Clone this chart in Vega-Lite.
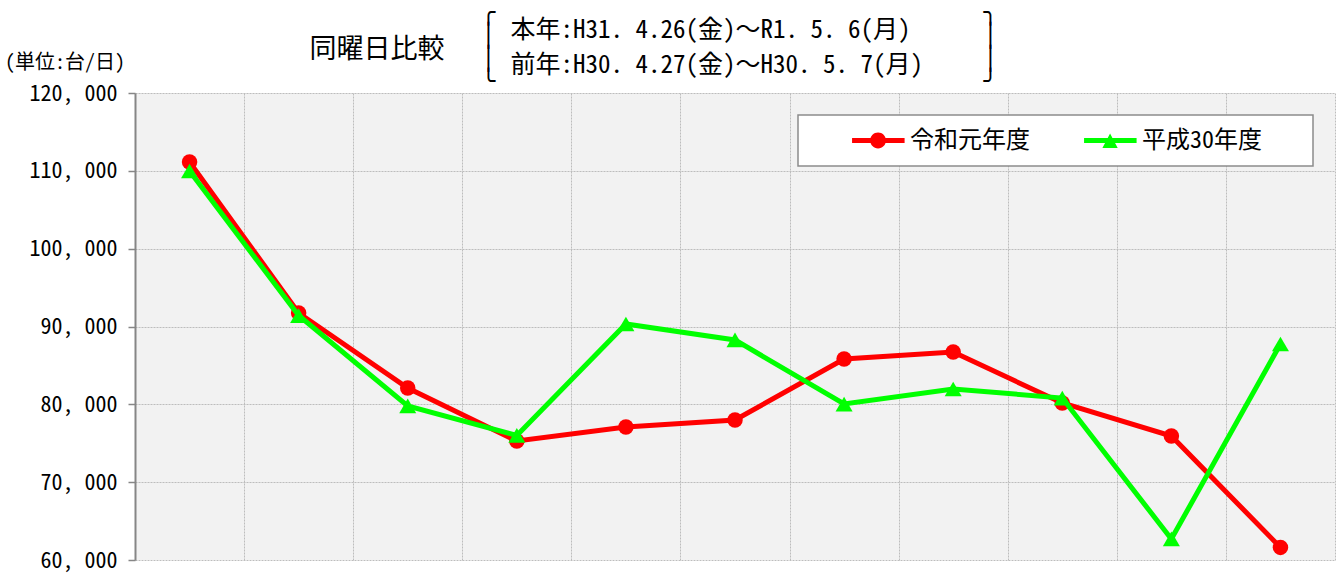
{
  "$schema": "https://vega.github.io/schema/vega-lite/v6.json",
  "width": 1200,
  "height": 467,
  "autosize": {"type": "none"},
  "padding": {"left": 135, "top": 93, "right": 2, "bottom": 13},
  "background": "white",
  "title": {
    "text": "(単位:台/日)",
    "anchor": "start",
    "frame": "group",
    "dx": -130,
    "offset": -72,
    "baseline": "top",
    "font": "Noto Sans Mono CJK JP, Noto Sans CJK JP, sans-serif",
    "fontSize": 20,
    "fontWeight": "normal",
    "color": "black"
  },
  "data": {
    "values": [
      {"i": 1, "day": "4/26", "series": "令和元年度", "value": 111135},
      {"i": 2, "day": "4/27", "series": "令和元年度", "value": 91735},
      {"i": 3, "day": "4/28", "series": "令和元年度", "value": 82100},
      {"i": 4, "day": "4/29", "series": "令和元年度", "value": 75290},
      {"i": 5, "day": "4/30", "series": "令和元年度", "value": 77090},
      {"i": 6, "day": "5/1", "series": "令和元年度", "value": 77990},
      {"i": 7, "day": "5/2", "series": "令和元年度", "value": 85820},
      {"i": 8, "day": "5/3", "series": "令和元年度", "value": 86720},
      {"i": 9, "day": "5/4", "series": "令和元年度", "value": 80170},
      {"i": 10, "day": "5/5", "series": "令和元年度", "value": 75930},
      {"i": 11, "day": "5/6", "series": "令和元年度", "value": 61620},
      {"i": 1, "day": "4/26", "series": "平成30年度", "value": 109980},
      {"i": 2, "day": "4/27", "series": "平成30年度", "value": 91410},
      {"i": 3, "day": "4/28", "series": "平成30年度", "value": 79790},
      {"i": 4, "day": "4/29", "series": "平成30年度", "value": 76000},
      {"i": 5, "day": "4/30", "series": "平成30年度", "value": 90320},
      {"i": 6, "day": "5/1", "series": "平成30年度", "value": 88270},
      {"i": 7, "day": "5/2", "series": "平成30年度", "value": 80040},
      {"i": 8, "day": "5/3", "series": "平成30年度", "value": 81970},
      {"i": 9, "day": "5/4", "series": "平成30年度", "value": 80810},
      {"i": 10, "day": "5/5", "series": "平成30年度", "value": 62700},
      {"i": 11, "day": "5/6", "series": "平成30年度", "value": 87750}
    ]
  },
  "resolve": {"axis": {"x": "independent", "y": "independent"}},
  "layer": [
    {
      "transform": [{"filter": "datum.series === '令和元年度'"}],
      "mark": {"type": "line", "strokeWidth": 5},
      "encoding": {
        "x": {
          "field": "day", "type": "ordinal", "bandPosition": 0.5,
          "scale": {"type": "band", "paddingInner": 0, "paddingOuter": 0, "domain": ["4/26","4/27","4/28","4/29","4/30","5/1","5/2","5/3","5/4","5/5","5/6"]},
          "axis": {
            "orient": "top", "labels": false, "ticks": false, "domain": false, "grid": false,
            "title": ["本年:H31. 4.26(金)～R1. 5. 6(月)", "前年:H30. 4.27(金)～H30. 5. 7(月)"],
            "titleFont": "Noto Sans Mono CJK JP, Noto Sans CJK JP, sans-serif",
            "titleFontSize": 25, "titleFontWeight": "normal", "titleColor": "black",
            "titleAngle": 0, "titleAlign": "left", "titleBaseline": "alphabetic",
            "titleX": 375, "titleY": -56, "titleLineHeight": 35
          }
        },
        "y": {
          "field": "value", "type": "quantitative",
          "scale": {"domain": [60000, 120000], "nice": false, "zero": false},
          "axis": {
            "orient": "left",
            "values": [60000, 70000, 80000, 90000, 100000, 110000, 120000],
            "labelExpr": "replace(format(datum.value, ','), ',', ', ')",
            "labelFont": "Noto Sans Mono CJK JP, Noto Sans CJK JP, sans-serif",
            "labelFontSize": 22, "labelColor": "black", "labelPadding": 11,
            "tickSize": 7, "tickColor": "#868686", "tickWidth": 1.5,
            "domainColor": "#868686", "domainWidth": 2,
            "grid": true, "gridColor": "#bdbdbd", "gridDash": [2, 1], "gridWidth": 1,
            "title": "同曜日比較",
            "titleFont": "Noto Sans Mono CJK JP, Noto Sans CJK JP, sans-serif",
            "titleFontSize": 27, "titleFontWeight": "normal", "titleColor": "black",
            "titleAngle": 0, "titleAlign": "left", "titleBaseline": "alphabetic",
            "titleX": 174, "titleY": -36
          }
        },
        "order": {"field": "i", "type": "quantitative"},
        "color": {
          "field": "series", "type": "nominal",
          "scale": {"domain": ["令和元年度", "平成30年度"], "range": ["#ff0000", "#00ff00"]},
          "legend": {
            "orient": "none", "legendX": 663, "legendY": 22, "direction": "horizontal", "title": null,
            "padding": 0, "fillColor": "white", "strokeColor": "#8c8c8c",
            "symbolSize": 2601, "symbolStrokeWidth": 0, "symbolOpacity": 1,
            "labelFont": "Noto Sans Mono CJK JP, Noto Sans CJK JP, sans-serif",
            "labelFontSize": 24, "labelColor": "black", "labelOffset": 61, "labelLimit": 400, "columnPadding": 0,
            "encode": {"symbols": {"update": {
              "shape": {"signal": "datum.value === '令和元年度' ? 'M1.12,-0.1H3.18V0.1H1.12Z M2.45,0A0.31,0.31 0 1,1 1.83,0A0.31,0.31 0 1,1 2.45,0Z M1.12,-1Z M1.12,1Z' : 'M1.12,-0.1H3.18V0.1H1.12Z M2.14,-0.27L2.44,0.29H1.84Z M1.12,-1Z M10.06,1Z'"},
              "fill": {"scale": "color", "field": "value"},
              "stroke": {"value": "transparent"},
              "strokeWidth": {"value": 0},
              "opacity": {"value": 1}
            }}}
          }
        }
      }
    },
    {
      "transform": [{"filter": "datum.series === '令和元年度'"}],
      "mark": {"type": "point", "shape": "circle", "filled": true, "size": 240, "opacity": 1, "strokeWidth": 0},
      "encoding": {
        "x": {"field": "day", "type": "ordinal", "bandPosition": 0.5, "axis": null},
        "y": {"field": "value", "type": "quantitative", "axis": null},
        "color": {
          "field": "series", "type": "nominal",
          "legend": {
            "orient": "none", "legendX": 663, "legendY": 22, "direction": "horizontal", "title": null,
            "padding": 0, "fillColor": "white", "strokeColor": "#8c8c8c",
            "symbolSize": 2601, "symbolStrokeWidth": 0, "symbolOpacity": 1,
            "labelFont": "Noto Sans Mono CJK JP, Noto Sans CJK JP, sans-serif",
            "labelFontSize": 24, "labelColor": "black", "labelOffset": 61, "labelLimit": 400, "columnPadding": 0,
            "encode": {"symbols": {"update": {
              "shape": {"signal": "datum.value === '令和元年度' ? 'M1.12,-0.1H3.18V0.1H1.12Z M2.45,0A0.31,0.31 0 1,1 1.83,0A0.31,0.31 0 1,1 2.45,0Z M1.12,-1Z M1.12,1Z' : 'M1.12,-0.1H3.18V0.1H1.12Z M2.14,-0.27L2.44,0.29H1.84Z M1.12,-1Z M10.06,1Z'"},
              "fill": {"scale": "color", "field": "value"},
              "stroke": {"value": "transparent"},
              "strokeWidth": {"value": 0},
              "opacity": {"value": 1}
            }}}
          }
        }
      }
    },
    {
      "transform": [{"filter": "datum.series === '平成30年度'"}],
      "mark": {"type": "line", "strokeWidth": 5},
      "encoding": {
        "x": {"field": "day", "type": "ordinal", "bandPosition": 0.5, "axis": null},
        "y": {"field": "value", "type": "quantitative", "axis": null},
        "order": {"field": "i", "type": "quantitative"},
        "color": {
          "field": "series", "type": "nominal",
          "legend": {
            "orient": "none", "legendX": 663, "legendY": 22, "direction": "horizontal", "title": null,
            "padding": 0, "fillColor": "white", "strokeColor": "#8c8c8c",
            "symbolSize": 2601, "symbolStrokeWidth": 0, "symbolOpacity": 1,
            "labelFont": "Noto Sans Mono CJK JP, Noto Sans CJK JP, sans-serif",
            "labelFontSize": 24, "labelColor": "black", "labelOffset": 61, "labelLimit": 400, "columnPadding": 0,
            "encode": {"symbols": {"update": {
              "shape": {"signal": "datum.value === '令和元年度' ? 'M1.12,-0.1H3.18V0.1H1.12Z M2.45,0A0.31,0.31 0 1,1 1.83,0A0.31,0.31 0 1,1 2.45,0Z M1.12,-1Z M1.12,1Z' : 'M1.12,-0.1H3.18V0.1H1.12Z M2.14,-0.27L2.44,0.29H1.84Z M1.12,-1Z M10.06,1Z'"},
              "fill": {"scale": "color", "field": "value"},
              "stroke": {"value": "transparent"},
              "strokeWidth": {"value": 0},
              "opacity": {"value": 1}
            }}}
          }
        }
      }
    },
    {
      "transform": [{"filter": "datum.series === '平成30年度'"}],
      "mark": {"type": "point", "shape": "triangle-up", "filled": true, "size": 289, "opacity": 1, "strokeWidth": 0},
      "encoding": {
        "x": {
          "field": "day", "type": "ordinal", "bandPosition": 0.5,
          "axis": {
            "orient": "bottom", "labels": false, "ticks": false, "domain": false,
            "grid": true, "tickBand": "extent", "gridColor": "#bdbdbd", "gridDash": [2, 1], "gridWidth": 1,
            "title": ["╭", "│", "│", "╰"],
            "titleFont": "DejaVu Sans Mono", "titleFontWeight": "normal", "titleFontSize": 23, "titleColor": "black",
            "titleAngle": 0, "titleAlign": "center", "titleBaseline": "middle", "titleLineHeight": 23.3,
            "titleX": 353, "titleY": -548
          }
        },
        "y": {
          "field": "value", "type": "quantitative",
          "axis": {
            "orient": "right", "labels": false, "ticks": false, "domain": false, "grid": false,
            "title": ["╮", "│", "│", "╯"],
            "titleFont": "DejaVu Sans Mono", "titleFontWeight": "normal", "titleFontSize": 23, "titleColor": "black",
            "titleAngle": 0, "titleAlign": "center", "titleBaseline": "middle", "titleLineHeight": 23.3,
            "titleX": -345, "titleY": -81
          }
        },
        "color": {
          "field": "series", "type": "nominal",
          "legend": {
            "orient": "none", "legendX": 663, "legendY": 22, "direction": "horizontal", "title": null,
            "padding": 0, "fillColor": "white", "strokeColor": "#8c8c8c",
            "symbolSize": 2601, "symbolStrokeWidth": 0, "symbolOpacity": 1,
            "labelFont": "Noto Sans Mono CJK JP, Noto Sans CJK JP, sans-serif",
            "labelFontSize": 24, "labelColor": "black", "labelOffset": 61, "labelLimit": 400, "columnPadding": 0,
            "encode": {"symbols": {"update": {
              "shape": {"signal": "datum.value === '令和元年度' ? 'M1.12,-0.1H3.18V0.1H1.12Z M2.45,0A0.31,0.31 0 1,1 1.83,0A0.31,0.31 0 1,1 2.45,0Z M1.12,-1Z M1.12,1Z' : 'M1.12,-0.1H3.18V0.1H1.12Z M2.14,-0.27L2.44,0.29H1.84Z M1.12,-1Z M10.06,1Z'"},
              "fill": {"scale": "color", "field": "value"},
              "stroke": {"value": "transparent"},
              "strokeWidth": {"value": 0},
              "opacity": {"value": 1}
            }}}
          }
        }
      }
    }
  ],
  "config": {
    "view": {"fill": "#f2f2f2", "stroke": null},
    "legend": {"strokeWidth": 1.5}
  }
}
